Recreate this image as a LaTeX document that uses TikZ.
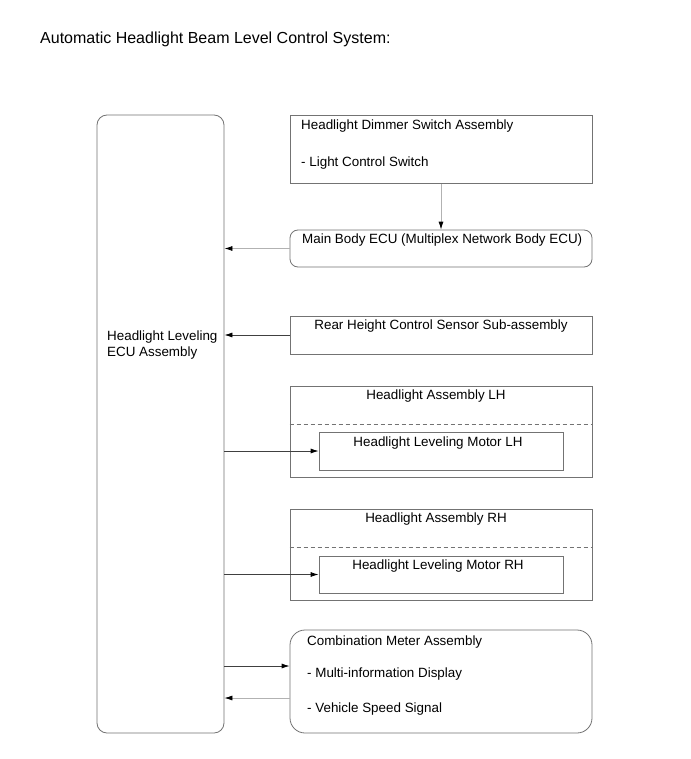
\documentclass[tikz,border=0pt]{standalone}
\usepackage{fontspec}
\setmainfont{Liberation Sans}
\usetikzlibrary{arrows.meta}
\begin{document}
\begin{tikzpicture}[x=1pt,y=-1pt,
  box/.style={draw=black!55,line width=0.8pt,inner sep=0pt,minimum width=302pt},
  lbl/.style={inner sep=0pt,font=\fontsize{13.4}{16}\selectfont},
  arr/.style={line width=0.8pt,-{Latex[length=8pt,width=5pt,color=black]}},
  lightarr/.style={arr,draw=black!30},
  darkarr/.style={arr,draw=black!75}]
\useasboundingbox (0,0) rectangle (690,759);
\fill[white] (0,0) rectangle (690,759);
% title
\node[lbl,anchor=west,font=\fontsize{16}{19}\selectfont] (title) at (40,39) {Automatic Headlight Beam Level Control System:};
% ECU
\node[box,rounded corners=10pt,minimum width=127pt,minimum height=618pt] (ecu) at (160.5,424) {};
\node[lbl,anchor=west,align=left] (ecut) at (107,345) {Headlight Leveling\\ECU Assembly};
% dimmer
\node[box,minimum height=68pt] (dim) at (441,149.5) {};
\node[lbl,anchor=west] (dimt1) at (301,126) {Headlight Dimmer Switch Assembly};
\node[lbl,anchor=west] (dimt2) at (301,163) {- Light Control Switch};
% main body
\node[box,rounded corners=8pt,minimum height=37pt] (mb) at (441,248.5) {};
\node[lbl,anchor=west] (mbt) at (302,240) {Main Body ECU (Multiplex Network Body ECU)};
% rear height
\node[box,minimum height=38pt] (rh) at (441,335) {};
\node[lbl] (rht) at (441,326) {Rear Height Control Sensor Sub-assembly};
% headlight LH
\node[box,minimum height=91pt] (hlh) at (441,431.5) {};
\draw[draw=black!55,line width=0.8pt,dash pattern=on 4pt off 3pt] (hlh.west |- 0,424) coordinate (dl1) -- (hlh.east |- 0,424) coordinate (dl2);
\node[lbl] (hlht) at (436,396) {Headlight Assembly LH};
\node[box,minimum width=244pt,minimum height=38pt] (mlh) at (441,451) {};
\node[lbl] (mlht) at (438,443) {Headlight Leveling Motor LH};
% headlight RH
\node[box,minimum height=91pt] (hrh) at (441,554.5) {};
\draw[draw=black!55,line width=0.8pt,dash pattern=on 4pt off 3pt] (hrh.west |- 0,547) coordinate (dr1) -- (hrh.east |- 0,547) coordinate (dr2);
\node[lbl] (hrht) at (436,519) {Headlight Assembly RH};
\node[box,minimum width=244pt,minimum height=37pt] (mrh) at (441,574.5) {};
\node[lbl] (mrht) at (438,566) {Headlight Leveling Motor RH};
% combination meter
\node[box,rounded corners=15pt,minimum height=103pt] (cm) at (441,681.5) {};
\node[lbl,anchor=west] (cmt1) at (307,642) {Combination Meter Assembly};
\node[lbl,anchor=west] (cmt2) at (307,674) {- Multi-information Display};
\node[lbl,anchor=west] (cmt3) at (307,709) {- Vehicle Speed Signal};
% connectors
\draw[lightarr] (dim.south) -- (mb.north);
\draw[lightarr] (mb.west) -- (ecu.east |- mb.west);
\draw[darkarr] (rh.west) -- (ecu.east |- rh.west);
\draw[darkarr] (ecu.east |- mlh.west) -- (mlh.west);
\draw[darkarr] (ecu.east |- mrh.west) -- (mrh.west);
\draw[darkarr] (ecu.east |- 0,666) -- (cm.west |- 0,666);
\draw[lightarr] (cm.west |- 0,698) -- (ecu.east |- 0,698);
\end{tikzpicture}
\end{document}
